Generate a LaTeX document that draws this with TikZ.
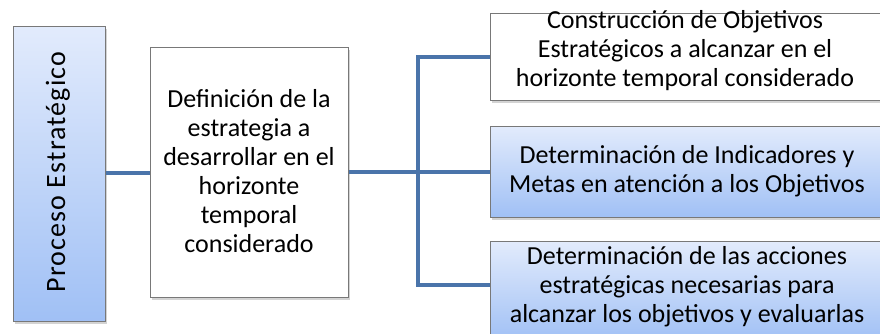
\documentclass[tikz,border=0pt]{standalone}
\usepackage{fontspec}
\setmainfont{Carlito}
\usetikzlibrary{shadows}
\definecolor{linkblue}{RGB}{74,116,170}
\definecolor{boxgray}{RGB}{120,120,120}
\definecolor{gradtop}{RGB}{226,235,252}
\definecolor{gradbot}{RGB}{160,192,245}
\begin{document}
\begin{tikzpicture}[x=1pt,y=-1pt,
  box/.style={draw=boxgray, line width=0.8pt, rectangle, inner sep=0pt, align=center,
    drop shadow={shadow xshift=2pt, shadow yshift=-3pt, opacity=0.35}},
  whitebox/.style={box, fill=white},
  bluebox/.style={box, top color=gradtop, bottom color=gradbot},
  txt/.style={align=center, inner sep=0pt, font=\fontsize{26}{29}\selectfont},
  link/.style={draw=linkblue, line width=3.8pt}]
\useasboundingbox (0,0) rectangle (880,333);
\clip (0,0) rectangle (880,333);
\node[bluebox, minimum width=92pt, minimum height=295pt, anchor=north west] (proc) at (13,26) {};
\node[rotate=90, inner sep=0pt, font=\fontsize{28}{32}\selectfont\addfontfeature{LetterSpace=4}] (proct) at (58,172) {Proceso Estratégico};
\node[whitebox, minimum width=198pt, minimum height=250pt, anchor=north west] (def) at (150,47) {};
\node[txt, font=\fontsize{26}{29}\selectfont] (deft) at (249,171)
  {Definición de la\\estrategia a\\desarrollar en el\\horizonte\\temporal\\considerado};
\node[whitebox, minimum width=394pt, minimum height=87pt, anchor=north west] (obj) at (490,13) {};
\node[txt] (objt) at (685,51)
  {Construcción de Objetivos\\Estratégicos a alcanzar en el\\horizonte temporal considerado};
\node[bluebox, minimum width=394pt, minimum height=91pt, anchor=north west] (ind) at (490,126) {};
\node[txt] (indt) at (687,171.5)
  {Determinación de Indicadores y\\Metas en atención a los Objetivos};
\node[bluebox, minimum width=394pt, minimum height=100pt, anchor=north west] (acc) at (490,241) {};
\node[txt] (acct) at (687,287)
  {Determinación de las acciones\\estratégicas necesarias para\\alcanzar los objetivos y evaluarlas};
\coordinate (j) at (418,172);
\draw[link] (proc.east |- 0,173) -- (def.west |- 0,173);
\draw[link] (def.east |- j) -- (j);
\draw[link] (obj.west |- 0,57) -| (j) |- (acc.west |- 0,285);
\draw[link] (j) -- (ind.west |- j);
\end{tikzpicture}
\end{document}
